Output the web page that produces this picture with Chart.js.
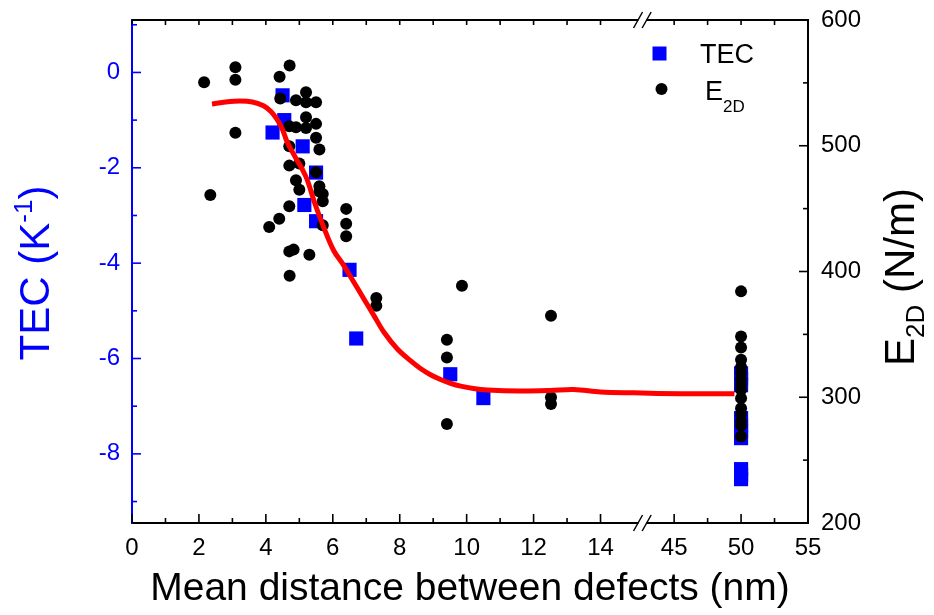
<!DOCTYPE html>
<html><head><meta charset="utf-8">
<script src="https://cdn.jsdelivr.net/npm/chart.js@4.4.1/dist/chart.umd.min.js"></script>
<style>html,body{margin:0;padding:0;background:#fff;}canvas{display:block;}</style>
</head><body>
<canvas id="c" width="934" height="615" style="width:934px;height:615px"></canvas>
<script>
const FONT = '"Liberation Sans", Arial, Helvetica, sans-serif';

// ---- tick labels ----
const xTickValues = [0, 2, 4, 6, 8, 10, 12, 14, 45, 50, 55];
const xTickLabels = ['0', '2', '4', '6', '8', '10', '12', '14', '45', '50', '55'];
const xMinorValues = [1, 3, 5, 7, 9, 11, 13, 47.5, 52.5];
const tecTicks = [0, -2, -4, -6, -8];
const tecMinor = [1, -1, -3, -5, -7, -9];
const e2dTicks = [200, 300, 400, 500, 600];
const e2dMinor = [250, 350, 450, 550];

// ---- TEC (left axis, K^-1) ----
const tecX = [4.2, 4.5, 4.55, 5.1, 5.5, 5.15, 5.5, 6.5, 6.7, 9.51, 10.5,
              50, 50, 50, 50, 50, 50, 50, 50, 50, 50];
const tecY = [-1.26, -0.48, -1.0, -1.55, -2.1, -2.78, -3.12, -4.14, -5.58, -6.33, -6.83,
              -6.31, -6.43, -6.56, -7.25, -7.39, -7.52, -7.67, -8.32, -8.44, -8.53];

// ---- E2D (right axis, N/m) ----
const e2dX = [2.155, 3.09, 3.09, 3.09, 2.34, 4.71, 4.41, 4.43, 4.9, 5.2,
              5.2, 5.5, 5.2, 5.5, 4.7, 4.9, 5.2, 5.5, 5.6, 4.7,
              4.7, 5.0, 4.9, 5.0, 5.5, 5.6, 5.7, 5.7, 5.6, 4.7,
              4.4, 4.1, 5.7, 6.4, 6.4, 6.4, 4.7, 4.83, 5.3, 4.71,
              7.3, 7.3, 9.86, 9.41, 9.41, 9.41, 12.52, 12.52, 12.52,
              50, 50, 50, 50, 50, 50, 50, 50, 50, 50, 50, 50, 50, 50, 50];
const e2dY = [550.5, 562.5, 552.4, 510.3, 460.9, 563.9, 554.9, 537.6, 536.2, 542.6,
              534.6, 534.6, 522.7, 517.4, 515.5, 514.7, 514.2, 506.3, 497, 499.6,
              484.2, 485.8, 472.5, 465.1, 478.9, 467.7, 461.7, 455.8, 463.7, 451.8,
              442, 435.4, 436.7, 449.8, 438, 428, 416, 417.4, 413.4, 396.7,
              378.9, 372.8, 388.7, 345.7, 331.6, 278.8, 364.8, 300, 294.7,
              384.2, 348.3, 339.6, 329.8, 324.0, 319.2, 314.4, 309.9, 305.9, 299.3, 291.3, 286, 280.7, 277.5, 268.7];

// ---- fitted curve (left axis) ----
const fitX = [2.39, 2.8, 3.23, 3.6, 3.93, 4.15, 4.33, 4.5, 4.63, 4.78, 4.93, 5.08, 5.23, 5.48, 5.73,
              6.03, 6.33, 6.63, 6.93, 7.23, 7.53, 7.93, 8.33, 8.62, 8.92, 9.22, 9.52, 9.82, 10.2, 10.62, 11.6,
              12.5, 13.2, 14.0, 15.0, 45.5, 47.5, 49.5];
const fitY = [-0.66, -0.62, -0.60, -0.62, -0.70, -0.82, -0.98, -1.20, -1.45, -1.65, -1.84, -2.02, -2.24, -2.78, -3.25,
              -3.74, -4.05, -4.40, -4.75, -5.10, -5.45, -5.80, -6.05, -6.21, -6.34, -6.44, -6.52, -6.58, -6.63, -6.66, -6.68,
              -6.67, -6.65, -6.70, -6.72, -6.74, -6.74, -6.74];

// broken x axis: 0..15.2 linear, then 45..55 compressed (2.5 nm per unit)
function brk(x) { return x < 30 ? x : 18.2 + (x - 50) * 0.4; }
const xTickU = xTickValues.map(brk);
const xMinorU = xMinorValues.map(brk);
const BREAK_U = 15.25;

const pts = (xs, ys) => xs.map((x, i) => ({ x: brk(x), y: ys[i] }));

const decor = {
  id: 'decor',
  afterDraw(chart) {
    const { ctx, chartArea: a, scales } = chart;
    const xs = scales.x, yl = scales.yL, yr = scales.yR;
    ctx.save();
    ctx.lineCap = 'butt';
    // top frame
    ctx.strokeStyle = '#000'; ctx.lineWidth = 2;
    ctx.beginPath(); ctx.moveTo(a.left, a.top); ctx.lineTo(a.right + 1, a.top); ctx.stroke();
    const line = (x0, y0, x1, y1) => { ctx.beginPath(); ctx.moveTo(x0, y0); ctx.lineTo(x1, y1); ctx.stroke(); };
    // x ticks (inward)
    ctx.lineWidth = 1.6; ctx.strokeStyle = '#000';
    xTickU.forEach(u => { const p = xs.getPixelForValue(u); line(p, a.bottom, p, a.bottom - 9); line(p, a.top, p, a.top + 5); });
    xMinorU.forEach(u => { const p = xs.getPixelForValue(u); line(p, a.bottom, p, a.bottom - 5); line(p, a.top, p, a.top + 5); });
    // left ticks
    ctx.strokeStyle = '#0000ff';
    tecTicks.forEach(v => { const p = yl.getPixelForValue(v); line(a.left, p, a.left + 9, p); });
    tecMinor.forEach(v => { const p = yl.getPixelForValue(v); line(a.left, p, a.left + 5, p); });
    // right ticks
    ctx.strokeStyle = '#000';
    e2dTicks.forEach(v => { const p = yr.getPixelForValue(v); line(a.right, p, a.right - 9, p); });
    e2dMinor.forEach(v => { const p = yr.getPixelForValue(v); line(a.right, p, a.right - 5, p); });
    // axis break marks
    const c = xs.getPixelForValue(BREAK_U);
    [a.top, a.bottom].forEach(y => {
      ctx.fillStyle = '#fff'; ctx.fillRect(c - 4, y - 2, 8, 4);
      ctx.strokeStyle = '#000'; ctx.lineWidth = 1.5;
      [-4.3, 4.3].forEach(d => line(c + d - 4.5, y + 8, c + d + 4.5, y - 8));
    });
    // legend
    ctx.fillStyle = '#0000ff'; ctx.fillRect(652.5, 46.5, 14, 14);
    ctx.fillStyle = '#000'; ctx.beginPath(); ctx.arc(661.5, 89, 6, 0, Math.PI * 2); ctx.fill();
    ctx.textBaseline = 'alphabetic'; ctx.textAlign = 'left';
    ctx.font = `27px ${FONT}`;
    ctx.fillText('TEC', 700, 63);
    ctx.fillText('E', 705, 100);
    ctx.font = `17px ${FONT}`;
    ctx.fillText('2D', 723, 112);
    // rotated axis titles with super/subscripts
    const rich = (cx, cy, parts, color) => {
      ctx.save(); ctx.translate(cx, cy); ctx.rotate(-Math.PI / 2);
      ctx.fillStyle = color; ctx.textBaseline = 'alphabetic'; ctx.textAlign = 'left';
      let total = 0;
      parts.forEach(p => { ctx.font = p.f; p.w = ctx.measureText(p.t).width; total += p.w; });
      let x0 = -total / 2;
      parts.forEach(p => { ctx.font = p.f; ctx.fillText(p.t, x0, p.dy); x0 += p.w; });
      ctx.restore();
    };
    const big = `42px ${FONT}`, small = `26px ${FONT}`;
    rich(49, 273, [{ t: 'TEC (K', f: big, dy: 0 }, { t: '-1', f: small, dy: -17 }, { t: ')', f: big, dy: 0 }], '#0000ff');
    rich(914, 277, [{ t: 'E', f: big, dy: 0 }, { t: '2D', f: small, dy: 10 }, { t: ' (N/m)', f: big, dy: 0 }], '#000');
    ctx.restore();
  }
};

const noPad = s => { s.paddingTop = 0; s.paddingBottom = 0; };

new Chart(document.getElementById('c'), {
  type: 'scatter',
  data: {
    datasets: [
      { label: 'fit', data: pts(fitX, fitY), yAxisID: 'yL', showLine: true, borderColor: '#ff0000', borderWidth: 5,
        pointRadius: 0, tension: 0.35, fill: false, order: 0 },
      { label: 'E2D', data: pts(e2dX, e2dY), yAxisID: 'yR', pointStyle: 'circle', pointRadius: 6,
        backgroundColor: '#000', borderColor: '#000', borderWidth: 0, order: 1 },
      { label: 'TEC', data: pts(tecX, tecY), yAxisID: 'yL', pointStyle: 'rect', pointRadius: 10,
        backgroundColor: '#0000ff', borderColor: '#0000ff', borderWidth: 0, order: 2 }
    ]
  },
  options: {
    responsive: false, animation: false, devicePixelRatio: 1,
    layout: { padding: { top: 20, left: 0, right: 0, bottom: 0 } },
    plugins: { legend: { display: false }, tooltip: { enabled: false } },
    scales: {
      x: {
        type: 'linear', position: 'bottom', min: 0, max: 20.2,
        afterBuildTicks: s => { s.ticks = xTickU.map(v => ({ value: v })); },
        afterFit: s => { s.height = 92; s.paddingLeft = 0; s.paddingRight = 0; },
        grid: { display: false, drawTicks: false },
        border: { display: true, color: '#000', width: 2 },
        ticks: {
          autoSkip: false, maxRotation: 0, padding: 11, color: '#000',
          font: { family: FONT, size: 24 },
          callback: v => { const i = xTickU.findIndex(u => Math.abs(u - v) < 1e-6); return i >= 0 ? xTickLabels[i] : ''; }
        },
        title: { display: true, text: 'Mean distance between defects (nm)', color: '#000',
                 font: { family: FONT, size: 39 }, padding: { top: 0, bottom: 2 } }
      },
      yL: {
        type: 'linear', position: 'left', min: -9.45, max: 1.1,
        afterBuildTicks: s => { s.ticks = tecTicks.map(v => ({ value: v })); },
        afterFit: s => { s.width = 132; noPad(s); },
        grid: { display: false, drawTicks: false },
        border: { display: true, color: '#0000ff', width: 2 },
        ticks: { padding: 12, color: '#0000ff', font: { family: FONT, size: 24 } }
      },
      yR: {
        type: 'linear', position: 'right', min: 200, max: 600,
        afterBuildTicks: s => { s.ticks = e2dTicks.map(v => ({ value: v })); },
        afterFit: s => { s.width = 126; noPad(s); },
        grid: { display: false, drawTicks: false },
        border: { display: true, color: '#000', width: 2 },
        ticks: { padding: 13, color: '#000', font: { family: FONT, size: 24 } }
      }
    }
  },
  plugins: [decor]
});
</script>
</body></html>
